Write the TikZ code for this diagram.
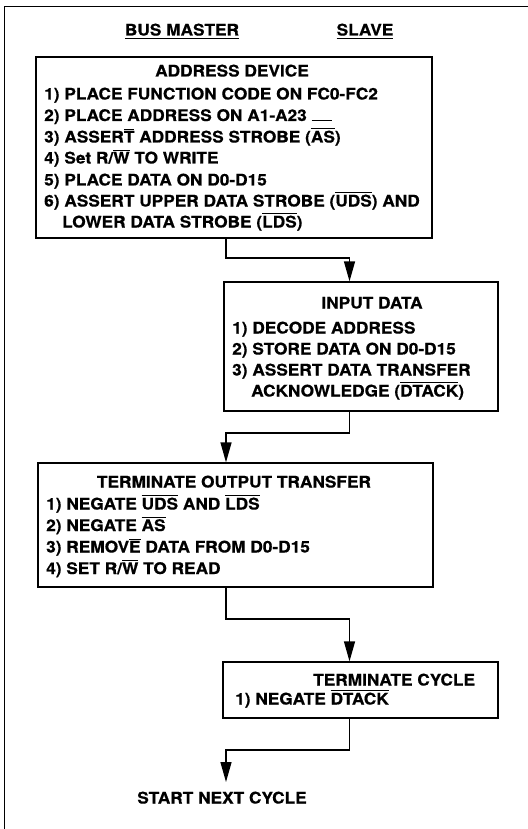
\documentclass[tikz,border=0pt]{standalone}
\usepackage{fontspec}
\setmainfont{TeX Gyre Heros}[FakeStretch=1.08, BoldFeatures={FakeStretch=1.08, FakeBold=0.6}]
\usetikzlibrary{arrows.meta}
\newcommand\ovl[1]{\leavevmode\vbox{\hrule height 0.9pt\kern1.3pt\hbox{#1}}}
\newcommand\uln[1]{\leavevmode\vtop{\hbox{#1}\kern2pt\hrule height 1.1pt}}
\newcommand\stray{\rule[0pt]{20pt}{0.9pt}}
\begin{document}
\begin{tikzpicture}[x=1pt,y=-1pt,
  fnt/.style={font=\fontsize{16}{18}\selectfont\bfseries},
  txt/.style={fnt, inner sep=0pt, anchor=base west},
  ttl/.style={fnt, inner sep=0pt, anchor=base},
  box/.style={draw, line width=1.3pt, inner sep=0pt},
  conn/.style={line width=1.3pt},
  arr/.style={conn,-{Triangle[length=20pt,width=11pt]}},
  frame/.style={line width=1pt}]
\useasboundingbox (0,0) rectangle (527,829);
% frame
\coordinate (fr1) at (530,6.5);
\coordinate (fr2) at (4,6.5);
\coordinate (fr3) at (4,832);
\draw[frame] (fr1) -- (fr2) -- (fr3);
% headers
\node[ttl] (hm) at (182,35.5) {\uln{BUS MASTER}};
\node[ttl] (hs) at (365,35.5) {\uln{SLAVE}};
% boxes
\node[box, minimum width=396pt, minimum height=181pt] (b1) at (234,147.5) {};
\node[box, minimum width=274pt, minimum height=129pt] (b2) at (361,346.5) {};
\node[box, minimum width=395pt, minimum height=124pt] (b3) at (235.5,525) {};
\node[box, minimum width=275pt, minimum height=56pt] (b4) at (360.5,690) {};
% box 1 text
\node[ttl] (t1) at (232,76.5) {ADDRESS DEVICE};
\node[txt] (t1a) at (44,99.5) {1) PLACE FUNCTION CODE ON FC0-FC2};
\node[txt] (t1b) at (44,121) {2) PLACE ADDRESS ON A1-A23 \stray};
\node[txt] (t1c) at (44,142.5) {3) ASSER\ovl{T} ADDRESS STROBE (\ovl{AS})};
\node[txt] (t1d) at (44,163.5) {4) Set R/\ovl{W} TO WRITE};
\node[txt] (t1e) at (44,185.5) {5) PLACE DATA ON D0-D15};
\node[txt] (t1f) at (44,206.5) {6) ASSERT UPPER DATA STROBE (\ovl{UDS}) AND};
\node[txt] (t1g) at (62,227.5) {LOWER DATA STROBE (\ovl{LDS})};
% box 2 text
\node[ttl] (t2) at (372,308.5) {INPUT DATA};
\node[txt] (t2a) at (232,333.5) {1) DECODE ADDRESS};
\node[txt] (t2b) at (232,354.5) {2) STORE DATA ON D0-D15};
\node[txt] (t2c) at (232,375.5) {3) ASSERT DATA TRANSFER};
\node[txt] (t2d) at (251,396.5) {ACKNOWLEDGE (\ovl{DTACK})};
% box 3 text
\node[ttl] (t3) at (234,487.5) {TERMINATE OUTPUT TRANSFER};
\node[txt] (t3a) at (46,509.5) {1) NEGATE \ovl{UDS} AND \ovl{LDS}};
\node[txt] (t3b) at (46,531) {2) NEGATE \ovl{AS}};
\node[txt] (t3c) at (46,552.5) {3) REMOV\ovl{E} DATA FROM D0-D15};
\node[txt] (t3d) at (46,574) {4) SET R/\ovl{W} TO READ};
% box 4 text
\node[txt] (t4) at (313,685.5) {TERMINATE CYCLE};
\node[txt] (t4a) at (235,704.5) {1) NEGATE \ovl{DTACK}};
% end text
\node[ttl] (sn) at (222,803.5) {START NEXT CYCLE};
\coordinate (snt) at (226,782);
% connector coordinates
\coordinate (xa) at (226,0);
\coordinate (xb) at (349.5,0);
\coordinate (h1) at (0,258);
\coordinate (h2) at (0,433);
\coordinate (h3) at (0,619);
\coordinate (h4) at (0,750);
\draw[arr] (xa |- b1.south) -- (xa |- h1) -- (xb |- h1) -- (xb |- b2.north);
\draw[arr] (xb |- b2.south) -- (xb |- h2) -- (xa |- h2) -- (xa |- b3.north);
\draw[arr] (xa |- b3.south) -- (xa |- h3) -- (xb |- h3) -- (xb |- b4.north);
\draw[arr] (xb |- b4.south) -- (xb |- h4) -- (xa |- h4) -- (snt);
\end{tikzpicture}
\end{document}
